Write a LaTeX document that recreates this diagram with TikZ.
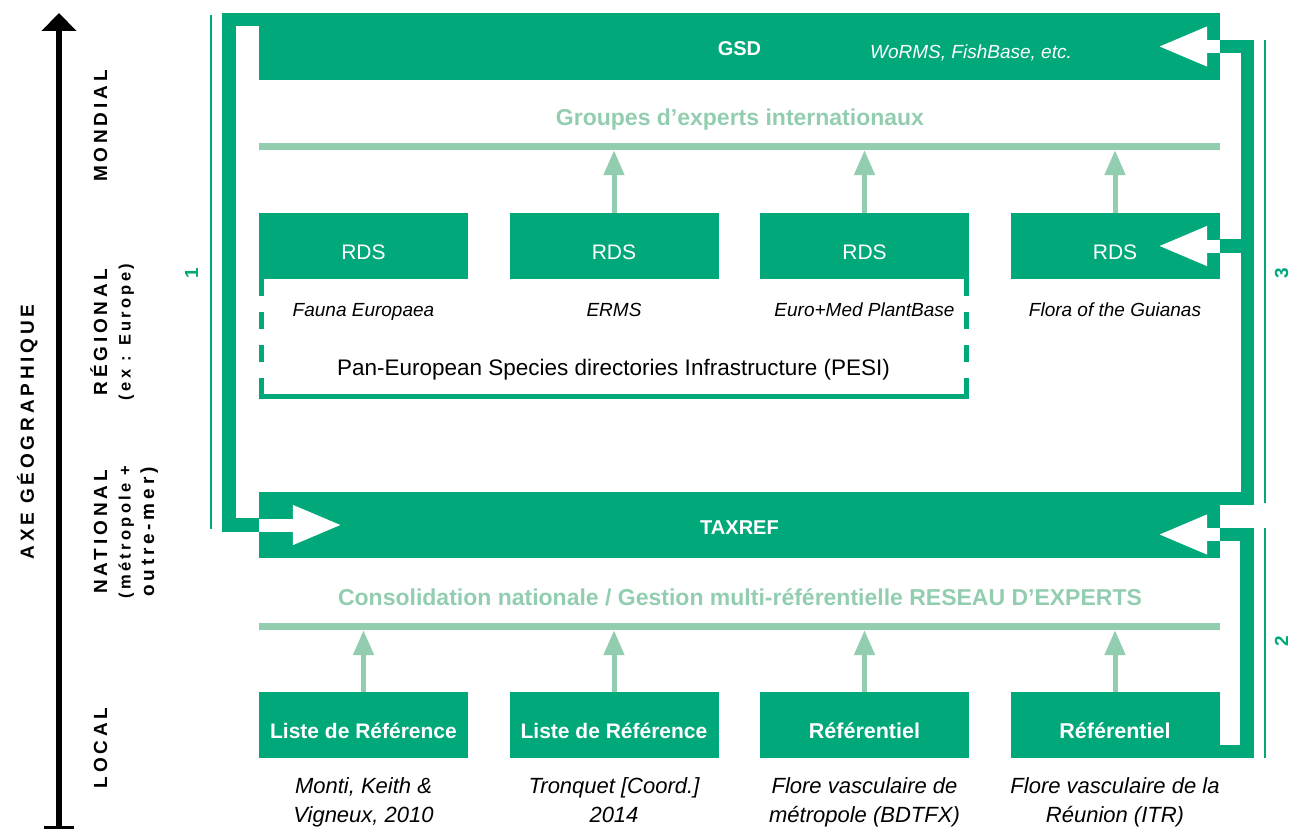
\documentclass[tikz,border=0pt]{standalone}
\usepackage{fontspec}
\setmainfont{Liberation Sans}
\newfontfamily\spacedfont[LetterSpace=20]{Liberation Sans}
\usepackage{tikz}
\usetikzlibrary{arrows.meta}
\definecolor{tgreen}{RGB}{0,168,122}
\definecolor{lgreen}{RGB}{147,205,176}
\newcommand\subsize{\fontsize{16.5}{23.5}\selectfont}

\begin{document}
\begin{tikzpicture}[x=1pt, y=-1pt,
    box/.style={fill=tgreen, text=white, minimum width=209pt, minimum height=66pt, inner sep=0pt, text height=26pt, text depth=0pt},
    bigbar/.style={fill=tgreen, text=white, minimum width=961pt, minimum height=66pt, inner sep=0pt, text height=18pt, text depth=0pt, font=\bfseries\fontsize{20}{24}\selectfont},
    rule/.style={fill=lgreen, minimum width=961pt, minimum height=7pt, inner sep=0pt},
    head/.style={anchor=base, text=lgreen, font=\bfseries\fontsize{23}{27}\selectfont},
    up/.style={lgreen, line width=5pt, -{Triangle[length=25pt,width=20pt]}},
    link/.style={tgreen, line width=13.5pt},
    inner/.style={white, line width=13pt, -{Triangle[length=50pt,width=36pt]}},
    bracket/.style={tgreen, line width=2.5pt},
    num/.style={rotate=90, anchor=base, inner sep=0pt, text=tgreen, font=\bfseries\fontsize{19}{23}\selectfont},
    level/.style={rotate=90, anchor=base, align=center, inner sep=0pt, font=\spacedfont\bfseries\fontsize{19}{23.5}\selectfont},
    note/.style={anchor=base, font=\itshape\fontsize{19}{23}\selectfont},
    ref/.style={anchor=base, align=center, font=\itshape\fontsize{22}{29}\selectfont}]

    \useasboundingbox (0,0) rectangle (1291,832);

    \draw[line width=6pt, {Bar[width=30pt,line width=3pt]}-{Triangle[length=18pt,width=34pt]}] (59,829) -- (59,13);
    \node[level] (axe) at (34,432) {AXE GÉOGRAPHIQUE};
    \node[level] (mondial) at (107,126) {MONDIAL};
    \node[level] (regional) at (130.5,332) {RÉGIONAL\\\subsize(ex : Europe)};
    \node[level] (national) at (154,532) {NATIONAL\\\subsize(métropole +\\outre-mer)};
    \node[level] (local) at (107,748) {LOCAL};

    % mondial
    \node[bigbar, minimum height=67pt] (gsd) at (739.5,46.5) {GSD};
    \node[anchor=base, text=white, font=\itshape\fontsize{19}{23}\selectfont] (gsdnote) at (971,59) {WoRMS, FishBase, etc.};
    \node[head] (intl) at (740,126) {Groupes d’experts internationaux};
    \node[rule] (intline) at (739.5,146.5) {};

    % regional
    \foreach \i/\x in {1/363.5,2/614,3/864.5,4/1115}
        \node[box, font=\fontsize{21}{25}\selectfont] (rds\i) at (\x,246) {RDS};
    \foreach \i in {2,3,4}
        \draw[up] (rds\i.north) -- (rds\i.north |- intline.south);
    \node[note] (fauna) at (363.5,316) {Fauna Europaea};
    \node[note] (erms) at (614,316) {ERMS};
    \node[note] (euromed) at (864.5,316) {Euro+Med PlantBase};
    \node[note] (guianas) at (1115,316) {Flora of the Guianas};
    \draw[tgreen, line width=5pt, dash pattern=on 17pt off 16pt] ([xshift=2.5pt]rds1.south west) -- ++(0,117);
    \draw[tgreen, line width=5pt, dash pattern=on 17pt off 16pt] ([xshift=-2.5pt]rds3.south east) -- ++(0,117);
    \draw[tgreen, line width=5pt] ([yshift=-117.5pt]rds1.south west) -- ([yshift=-117.5pt]rds3.south east);
    \node[anchor=base, font=\fontsize{22.5}{27}\selectfont] (pesi) at (613.5,375) {Pan-European Species directories Infrastructure (PESI)};

    % national
    \node[bigbar] (taxref) at (739.5,525) {TAXREF};
    \node[head] (natl) at (740,605) {Consolidation nationale / Gestion multi-référentielle RESEAU D’EXPERTS};
    \node[rule] (natline) at (739.5,626.5) {};

    % local
    \node[box, font=\bfseries\fontsize{21}{25}\selectfont] (loc1) at (363.5,725) {Liste de Référence};
    \node[box, font=\bfseries\fontsize{21}{25}\selectfont] (loc2) at (614,725) {Liste de Référence};
    \node[box, font=\bfseries\fontsize{21.5}{25}\selectfont] (loc3) at (864.5,725) {Référentiel};
    \node[box, font=\bfseries\fontsize{21.5}{25}\selectfont] (loc4) at (1115,725) {Référentiel};
    \foreach \i in {1,...,4}
        \draw[up] (loc\i.north) -- (loc\i.north |- natline.south);
    \node[ref] (monti) at (363.5,822) {Monti, Keith \&\\Vigneux, 2010};
    \node[ref] (tronquet) at (614,822) {Tronquet [Coord.]\\2014};
    \node[ref] (bdtfx) at (864.5,822) {Flore vasculaire de\\métropole (BDTFX)};
    \node[ref] (itr) at (1115,822) {Flore vasculaire de la\\Réunion (ITR)};

    % liens
    \draw[link] (taxref.west) -- ++(-30,0) |- ([yshift=-6.75pt]gsd.north west);
    \draw[inner] (taxref.west) -- ++(84,0);
    \draw[link] ([yshift=-6.75pt]taxref.north east) -- ++(27.5,0) |- (gsd.east);
    \draw[link] (rds4.east) -- ++(28,0);
    \draw[inner] (gsd.east) -- ++(-63,0);
    \draw[inner] (rds4.east) -- ++(-62.5,0);
    \draw[link] ([yshift=6.75pt]loc4.south east) -- ++(27.5,0) |- ([yshift=-9.5pt]taxref.east);
    \draw[inner] ([yshift=-9.5pt]taxref.east) -- ++(-63,0);

    \draw[bracket] (211,15) -- (211,529);
    \node[num] (n1) at (198,273) {1};
    \draw[bracket] (1265,40) -- (1265,503);
    \node[num] (n3) at (1288,273) {3};
    \draw[bracket] (1265,528) -- (1265,758);
    \node[num] (n2) at (1288,641) {2};
\end{tikzpicture}
\end{document}
